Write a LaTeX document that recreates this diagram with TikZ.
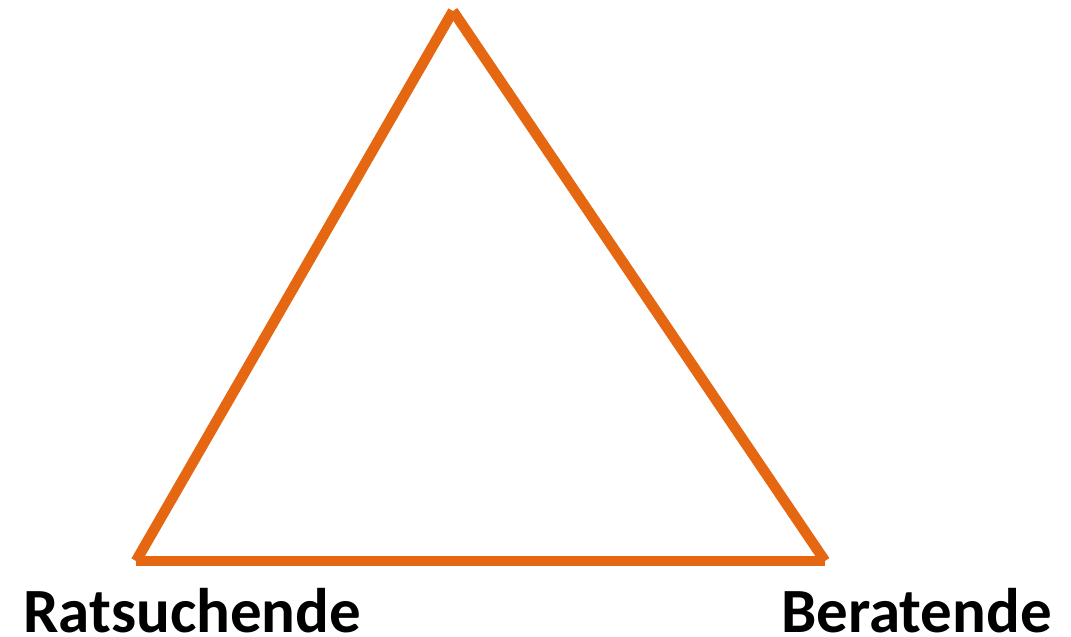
\documentclass[tikz,border=0pt]{standalone}
\usepackage{fontspec}
\setmainfont{Carlito}
\usepackage{xcolor}
\usetikzlibrary{positioning}
\definecolor{torange}{RGB}{229,103,18}

\begin{document}
\begin{tikzpicture}[x=1pt,y=-1pt]
\tikzset{
  side/.style={color=torange, line width=10.5pt},
  role/.style={inner sep=0pt, font=\bfseries\fontsize{63}{63}\selectfont}
}
\useasboundingbox (0,0) rectangle (1071,637);

\coordinate (top) at (453,11);
\coordinate (left) at (136,561);
\coordinate (right) at (825,561);

\draw[side] (left) -- (top);
\draw[side] (top) -- (right);
\draw[side] (left) -- (right);

\node[role, anchor=base west] (seek) at (23,632) {Ratsuchende};
\node[role, anchor=base east] (advise) at (1052,632) {Beratende};

\end{tikzpicture}
\end{document}
